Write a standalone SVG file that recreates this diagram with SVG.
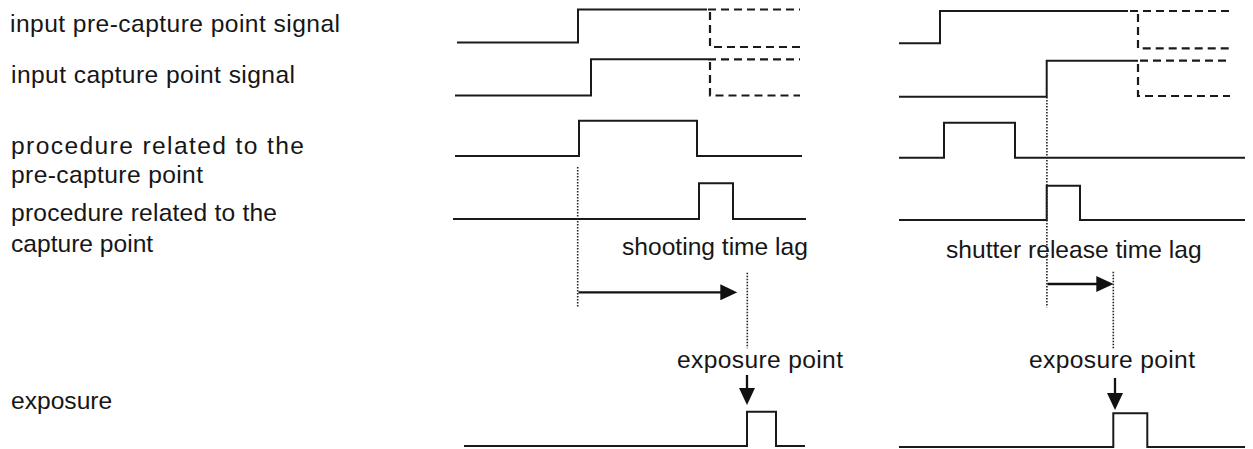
<svg xmlns="http://www.w3.org/2000/svg" width="1253" height="449" viewBox="0 0 1253 449">
<defs>
<style>
.lbl{font-family:"Liberation Sans",Arial,sans-serif;font-size:24.6px;fill:#161616}
.w{fill:none;stroke:#1a1a1a;stroke-width:2;stroke-linejoin:miter}
.d{fill:none;stroke:#1a1a1a;stroke-width:2.2;stroke-dasharray:8 5}
.dot{fill:none;stroke:#222;stroke-width:1.6;stroke-dasharray:1.6 1.4}
.arr{fill:none;stroke:#111;stroke-width:2.3}
</style>
<marker id="ah" markerUnits="userSpaceOnUse" markerWidth="17" markerHeight="16" refX="9" refY="8" orient="auto">
<path d="M0,0 L17,8 L0,16 z" fill="#111"/>
</marker>
</defs>
<rect width="1253" height="449" fill="#fff"/>

<g id="labels">
<text id="lbl-pre-signal" class="lbl" x="10" y="32" textLength="330" lengthAdjust="spacing">input pre-capture point signal</text>
<text id="lbl-cap-signal" class="lbl" x="11" y="83" textLength="284" lengthAdjust="spacing">input capture point  signal</text>
<text id="lbl-proc-pre" class="lbl" x="11" y="154" textLength="293" lengthAdjust="spacing">procedure related to the</text>
<text id="lbl-proc-pre2" class="lbl" x="11" y="183" textLength="192" lengthAdjust="spacing">pre-capture point</text>
<text id="lbl-proc-cap" class="lbl" x="11" y="221" textLength="266" lengthAdjust="spacing">procedure related to the</text>
<text id="lbl-proc-cap2" class="lbl" x="11" y="252">capture point</text>
<text id="lbl-exposure" class="lbl" x="11" y="409">exposure</text>
</g>

<g id="left-timing">
<g id="L-pre-signal">
<polyline class="w" points="457,42.5 578,42.5 578,9.5 707,9.5"/>
<path class="d" d="M708 9.5 H800 M710 12 V47 H800"/>
</g>
<g id="L-cap-signal">
<polyline class="w" points="455,95.5 591,95.5 591,59.3 708,59.3"/>
<path class="d" d="M708 59.3 H800 M710 62 V95.5 H800"/>
</g>
<g id="L-proc-pre">
<polyline class="w" points="455,156 579,156 579,120.7 697,120.7 697,156 802,156"/>
</g>
<g id="L-proc-cap">
<polyline class="w" points="453,219 699,219 699,183.3 733,183.3 733,219 806,219"/>
</g>
<g id="L-exposure">
<polyline class="w" points="464,446 747,446 747,411.7 776,411.7 776,446 805,446"/>
</g>
<text id="lbl-shooting" class="lbl" x="622" y="255">shooting time lag</text>
<text id="lbl-exp-left" class="lbl" x="677" y="368" textLength="166" lengthAdjust="spacing">exposure point</text>
</g>

<g id="right-timing">
<g id="R-pre-signal">
<polyline class="w" points="899,43.3 940,43.3 940,11 1128,11"/>
<path class="d" d="M1130 11 H1230 M1138 14 V48.3 H1230"/>
</g>
<g id="R-cap-signal">
<polyline class="w" points="899,96.7 1046.7,96.7 1046.7,60.7 1138,60.7"/>
<path class="d" d="M1140 60.7 H1230 M1138 64 V96 H1230"/>
</g>
<g id="R-proc-pre">
<polyline class="w" points="899,157.7 944,157.7 944,122.7 1015,122.7 1015,157.7 1245,157.7"/>
</g>
<g id="R-proc-cap">
<polyline class="w" points="899,220 1046.7,220 1046.7,185.7 1080,185.7 1080,220 1245,220"/>
</g>
<g id="R-exposure">
<polyline class="w" points="899,447 1113.3,447 1113.3,413.3 1147.3,413.3 1147.3,447 1245,447"/>
</g>
<text id="lbl-shutter" class="lbl" x="946" y="258">shutter release time lag</text>
<text id="lbl-exp-right" class="lbl" x="1029" y="368" textLength="166" lengthAdjust="spacing">exposure point</text>
</g>

<g id="connectors">
<line class="dot" x1="577.7" y1="167" x2="577.7" y2="308"/>
<line class="dot" x1="747.3" y1="272.7" x2="747.3" y2="348.3"/>
<line class="dot" x1="1046.9" y1="97" x2="1046.9" y2="307.3"/>
<line class="dot" x1="1113.3" y1="271.7" x2="1113.3" y2="348.3"/>
<line class="arr" x1="578.5" y1="292.3" x2="729.3" y2="292.3" marker-end="url(#ah)"/>
<line class="arr" x1="1047.5" y1="284" x2="1105.3" y2="284" marker-end="url(#ah)"/>
<line class="arr" x1="747" y1="375" x2="747" y2="397" marker-end="url(#ah)"/>
<line class="arr" x1="1115" y1="378" x2="1115" y2="402" marker-end="url(#ah)"/>
</g>
</svg>
